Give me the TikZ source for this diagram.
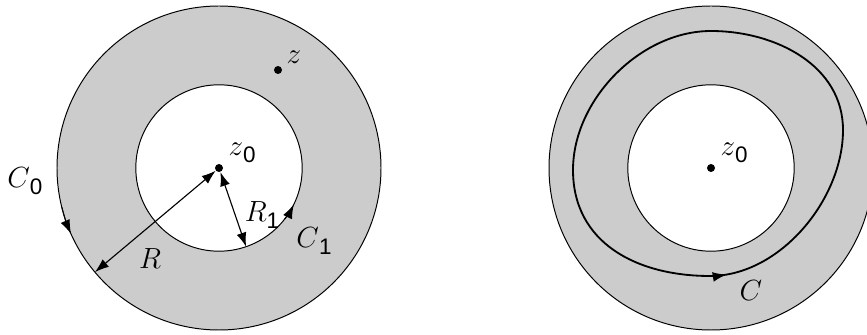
\documentclass[tikz,border=0pt]{standalone}
\usepackage{fontspec}
\setsansfont{Liberation Sans}
\usetikzlibrary{arrows.meta}
\usetikzlibrary{decorations.markings, math}
\usetikzlibrary{positioning}

\newcommand{\labsub}[2]{$#1$\raisebox{-0.25em}{\sffamily\fontsize{16}{16}\selectfont #2}}

\tikzset{
  ring/.style={fill=gray!40, even odd rule},
  rim/.style={line width=0.7pt},
  dot/.style={circle, fill=black, inner sep=0pt, minimum size=0.2cm},
  dim/.style={line width=0.8pt, {Latex[length=10pt,width=7pt]}-{Latex[length=10pt,width=7pt]}},
  orient/.style={line width=0.7pt, -{Latex[length=10pt,width=7pt]}},
  lbl/.style={font=\fontsize{20}{24}\selectfont, inner sep=1pt},
}

\begin{document}
\begin{tikzpicture}
\tikzmath{
\Ro=4.05;
\Ri=2.08;
}
\useasboundingbox (0,0) rectangle (21.675,8.375);

%left annulus
\coordinate (cL) at (5.475,4.175);
\fill[ring] (cL) circle(\Ro) (cL) circle(\Ri);
\draw[rim] (cL) circle(\Ro);
\draw[rim] (cL) circle(\Ri);
\draw[orient] ([shift={(194:\Ro)}]cL) arc (194:204:\Ro);
\draw[orient] ([shift={(-38:\Ri)}]cL) arc (-38:-26:\Ri);

\node[dot] (z0) at (cL) {};
\node[dot] (z) at (6.95,6.625) {};
\coordinate (Rend) at ([shift={(220:\Ro)}]cL);
\coordinate (R1end) at ([shift={(289:\Ri)}]cL);
\draw[dim] (Rend) -- (z0);
\draw[dim] (R1end) -- (z0);

\node[lbl, above right=0.02cm and 0.12cm of z0] (z0lab) {\labsub{z}{0}};
\node[lbl, above right=0.05cm and 0.1cm of z] (zlab) {$z$};
\node[lbl] (C0lab) at (0.62,3.85) {\labsub{C}{0}};
\node[lbl] (Rlab) at (3.75,1.9) {$R$};
\node[lbl] (R1lab) at (6.55,3.0) {\labsub{R}{1}};
\node[lbl] (C1lab) at (7.85,2.35) {\labsub{C}{1}};

%right annulus
\coordinate (cR) at (17.775,4.175);
\fill[ring] (cR) circle(\Ro) (cR) circle(\Ri);
\draw[rim] (cR) circle(\Ro);
\draw[rim] (cR) circle(\Ri);
\node[dot] (w0) at (cR) {};
\node[lbl, above right=0.02cm and 0.12cm of w0] (w0lab) {\labsub{z}{0}};

%contour C
\coordinate (Cbot) at ([shift={(-0.025,-2.7)}]cR);
\coordinate (Cright) at ([shift={(3.3,0.95)}]cR);
\coordinate (Ctop) at ([shift={(0,3.425)}]cR);
\coordinate (Cleft) at ([shift={(-3.45,-0.05)}]cR);
\draw[line width=1.3pt,
  decoration={markings, mark=at position 12pt with {\arrow{Latex[length=10pt,width=7pt]}}},
  postaction=decorate]
  (Cbot) to[out=0,in=-90,looseness=0.9] (Cright)
  to[out=90,in=0] (Ctop)
  to[out=180,in=90,looseness=0.92] (Cleft)
  to[out=-90,in=180,looseness=1.08] cycle;
\node[lbl] (Clab) at (18.775,1.1) {$C$};
\end{tikzpicture}
\end{document}
